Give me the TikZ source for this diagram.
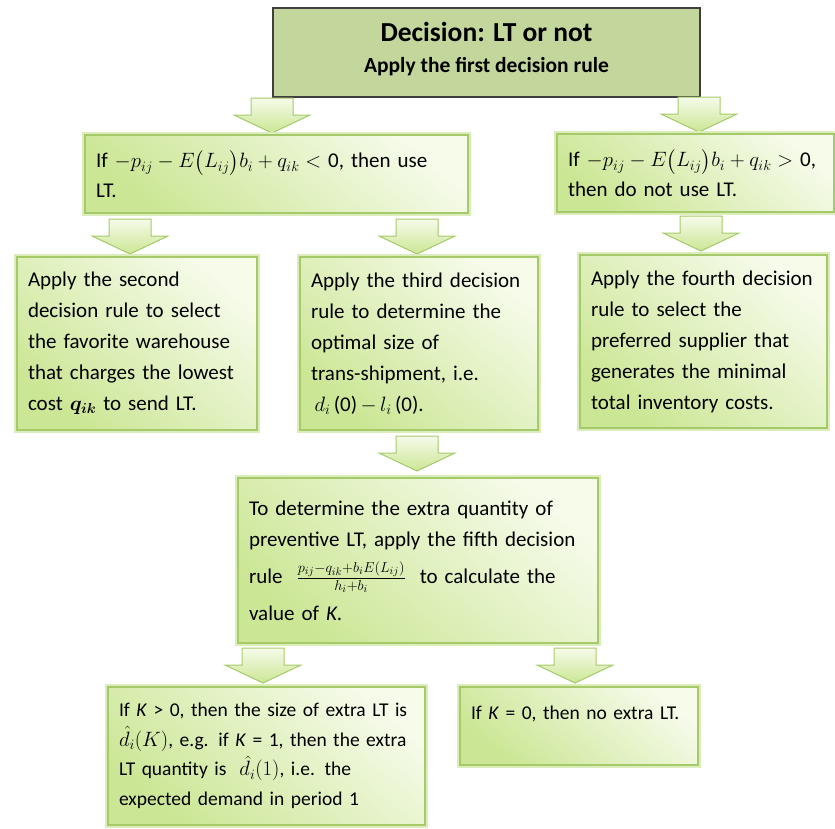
\documentclass[tikz,border=0pt]{standalone}
\usepackage{amsmath}
\usepackage{fontspec}
\setmainfont{Carlito}
\definecolor{boxline}{HTML}{A6CA6A}
\definecolor{boxglow}{HTML}{DCEDBC}
\definecolor{boxlight}{HTML}{F6FBEA}
\definecolor{boxdark}{HTML}{CBE694}
\definecolor{headfill}{HTML}{C3D69B}
\definecolor{headline}{HTML}{3F3F3F}

\begin{document}
\begin{tikzpicture}[x=1pt, y=-1pt,
	box/.style={draw=boxline, line width=1.5pt, preaction={draw=boxglow, line width=6pt},
		top color=boxlight, bottom color=boxdark, shading angle=-40,
		align=left, inner xsep=11pt, inner ysep=6pt, font=\fontsize{21}{31}\selectfont},
	tight/.style={font=\fontsize{21}{29.5}\selectfont},
	small/.style={font=\fontsize{19.5}{29.5}\selectfont},
	head/.style={draw=headline, line width=1.2pt, fill=headfill, align=center,
		font=\fontsize{27.5}{31}\selectfont\bfseries},
	arrowfill/.style={draw=boxline, line width=1pt, top color=boxlight, bottom color=boxdark},
	downarr/.pic={\draw[arrowfill] (-21,0) -- (21,0) -- (21,17) -- (38,17) -- (0,35) -- (-38,17) -- (-21,17) -- cycle;}]
	
	\useasboundingbox (0,0) rectangle (835,828);
	
	% first decision rule
	\node[head, minimum width=427pt, minimum height=89pt, text depth=10pt] (rule1) at (486.5,52.5)
		{Decision: LT or not\\ {\fontsize{21.5}{24}\selectfont Apply the first decision rule}};
	
	\pic at (272,98) {downarr};
	\pic at (699,97) {downarr};
	
	\node[box, tight, minimum height=78pt, text width=361pt] (useLT) at (276.5,174)
		{If $-p_{ij} - E\big(L_{ij}\big)b_i + q_{ik} <$ 0, then use\\ LT.};
	\node[box, tight, minimum height=78pt, text width=255pt] (noLT) at (695.5,173)
		{If $-p_{ij} - E\big(L_{ij}\big)b_i + q_{ik} >$ 0,\\ then do not use LT.};
	
	\pic at (130,219) {downarr};
	\pic at (417,219) {downarr};
	\pic at (701,216) {downarr};
	
	\node[box, minimum height=173pt, text width=218pt] (rule2) at (137,343.5)
		{Apply the second\\ decision rule to select\\ the favorite warehouse\\ that charges the lowest\\ cost $\boldsymbol{q_{ik}}$ to send LT.};
	\node[box, minimum height=173pt, text width=216pt] (rule3) at (419,343.5)
		{Apply the third decision\\ rule to determine the\\ optimal size of\\ trans-shipment, i.e.\\ \,$d_i\,$(0)$\,-\,l_i\,$(0).};
	\node[box, minimum height=173pt, text width=225pt] (rule4) at (703.5,341.5)
		{Apply the fourth decision\\ rule to select the\\ preferred supplier that\\ generates the minimal\\ total inventory costs.};
	
	\pic at (417,436) {downarr};
	
	\node[box, minimum height=165pt, text width=338pt] (rule5) at (418,560.5)
		{To determine the extra quantity of\\ preventive LT, apply the fifth decision\\[6pt]
		rule \ $\frac{p_{ij}-q_{ik}+b_iE(L_{ij})}{h_i+b_i}$ \ to calculate the\\[6pt] value of \textit{K}.};
	
	\pic at (263,648) {downarr};
	\pic at (575,648) {downarr};
	
	\node[box, small, minimum height=138pt, text width=295pt] (extraLT) at (266.5,756)
		{If \textit{K} > 0, then the size of extra LT is\\ $\hat{d}_i(K)$, e.g. if \textit{K} = 1, then the extra\\
		LT quantity is \ $\hat{d}_i(1)$, i.e. the\\ expected demand in period 1};
	\node[box, small, minimum height=78pt, text width=216pt, text depth=26pt] (noextra) at (579,726)
		{If \textit{K} = 0, then no extra LT.};
\end{tikzpicture}
\end{document}
